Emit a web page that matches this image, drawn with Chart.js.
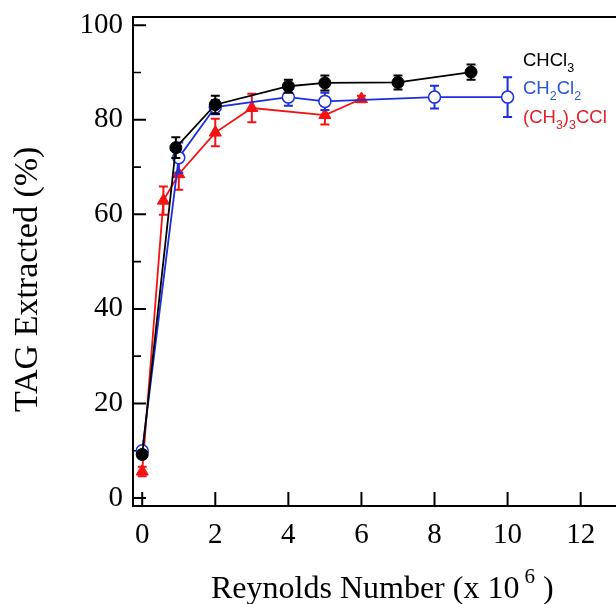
<!DOCTYPE html>
<html><head><meta charset="utf-8">
<script src="https://cdn.jsdelivr.net/npm/chart.js@4"></script>
<style>html,body{margin:0;padding:0;overflow:hidden;background:#fff}#wrap{width:660px;height:604px}</style>
</head><body><div id="wrap"><canvas id="c" width="660" height="604" style="width:660px;height:604px"></canvas></div>
<script>
// ---- data ----
const xChcl3 = [0, 0.92, 2, 4, 5, 7, 9];
const yChcl3 = [9.2, 74.1, 83.2, 87.1, 87.8, 87.9, 90.1];
const errChcl3 = [0.8, 2.2, 1.9, 1.4, 1.6, 1.5, 1.6];

const xCh2cl2 = [0, 1, 2, 4, 5, 8, 10];
const yCh2cl2 = [10.0, 72.0, 82.7, 84.8, 83.9, 84.8, 84.8];
const errCh2cl2 = [0.5, 3.2, 1.5, 1.8, 1.8, 2.4, 4.2];

const xTbucl = [0, 0.58, 1, 2, 3, 5, 6];
const yTbucl = [5.6, 62.9, 68.5, 77.3, 82.5, 81.0, 84.4];
const errTbucl = [1.0, 3.0, 3.3, 2.9, 3.0, 2.0, 0.7];

const xTickValues = [0, 2, 4, 6, 8, 10, 12];
const yTickValues = [0, 20, 40, 60, 80, 100];
const yMinorTickValues = [10, 30, 50, 70, 90];

// rich text: [text, kind] kind 0 normal, 1 subscript, -1 superscript
const legendChcl3 = [['CHCl', 0], ['3', 1]];
const legendCh2cl2 = [['CH', 0], ['2', 1], ['Cl', 0], ['2', 1]];
const legendTbucl = [['(CH', 0], ['3', 1], [')', 0], ['3', 1], ['CCl', 0]];
const xTitle = [['Reynolds Number (x 10', 0], ['6', -1], [' )', 0]];
const yTitle = 'TAG Extracted (%)';

const BLACK = '#000000', BLUE = '#1c2ee0', RED = '#f51212';
const errSets = [errChcl3, errCh2cl2, errTbucl];
const errColors = [BLACK, BLUE, RED];

function pts(xs, ys) { return xs.map((v, i) => ({ x: v, y: ys[i] })); }

function drawRich(ctx, segs, x, y, size, smallSize, subDy, supDy, family, supGap) {
  let cx = x;
  segs.forEach(([t, k]) => {
    ctx.font = (k === 0 ? size : smallSize) + 'px ' + family;
    if (k === -1) cx += supGap;
    const dy = k === 1 ? subDy : (k === -1 ? supDy : 0);
    ctx.fillText(t, cx, y + dy);
    cx += ctx.measureText(t).width;
  });
}

const deco = {
  id: 'deco',
  beforeDatasetsDraw(chart) {
    const { ctx, chartArea: a, scales: { x, y } } = chart;
    ctx.save();
    ctx.strokeStyle = '#000';
    ctx.lineWidth = 2;
    ctx.strokeRect(a.left, a.top, a.right - a.left, a.bottom - a.top);
    ctx.beginPath();
    xTickValues.forEach(v => { const p = x.getPixelForValue(v); ctx.moveTo(p, a.bottom); ctx.lineTo(p, a.bottom - 14); });
    yTickValues.forEach(v => { const p = y.getPixelForValue(v); ctx.moveTo(a.left, p); ctx.lineTo(a.left + 13, p); });
    ctx.stroke();
    ctx.lineWidth = 1.6;
    ctx.beginPath();
    yMinorTickValues.forEach(v => { const p = y.getPixelForValue(v); ctx.moveTo(a.left, p); ctx.lineTo(a.left + 8, p); });
    ctx.stroke();
    ctx.restore();
  },
  beforeDatasetDraw(chart, args) {
    const i = args.index;
    const errs = errSets[i];
    const ds = chart.data.datasets[i];
    const { ctx, scales: { x, y } } = chart;
    ctx.save();
    ctx.strokeStyle = errColors[i];
    ctx.lineWidth = 2;
    ctx.beginPath();
    ds.data.forEach((p, j) => {
      const px = x.getPixelForValue(p.x);
      const top = y.getPixelForValue(p.y + errs[j]);
      const bot = y.getPixelForValue(p.y - errs[j]);
      ctx.moveTo(px, top); ctx.lineTo(px, bot);
      ctx.moveTo(px - 4.5, top); ctx.lineTo(px + 4.5, top);
      ctx.moveTo(px - 4.5, bot); ctx.lineTo(px + 4.5, bot);
    });
    ctx.stroke();
    ctx.restore();
  },
  afterDraw(chart) {
    const { ctx } = chart;
    ctx.save();
    ctx.textBaseline = 'alphabetic';
    ctx.textAlign = 'left';
    const sans = '"Liberation Sans", Arial, sans-serif';
    ctx.fillStyle = '#000000';
    drawRich(ctx, legendChcl3, 523, 66, 18.5, 12.5, 6, 0, sans, 0);
    ctx.fillStyle = '#2a55d6';
    drawRich(ctx, legendCh2cl2, 523, 94, 18.5, 12.5, 6, 0, sans, 0);
    ctx.fillStyle = '#e0202a';
    drawRich(ctx, legendTbucl, 523, 122.5, 18.5, 12.5, 6, 0, sans, 0);

    const serif = '"Liberation Serif", "Times New Roman", serif';
    ctx.fillStyle = '#000';
    drawRich(ctx, xTitle, 211, 597.5, 32, 21, 0, -15, serif, 5);

    ctx.translate(37, 412);
    ctx.rotate(-Math.PI / 2);
    ctx.font = '34px ' + serif;
    ctx.fillText(yTitle, 0, 0);
    ctx.restore();
  }
};

const tickFont = { family: '"Liberation Serif", "Times New Roman", serif', size: 29 };

new Chart(document.getElementById('c'), {
  type: 'line',
  data: {
    datasets: [
      { label: 'CHCl3', data: pts(xChcl3, yChcl3), borderColor: BLACK, backgroundColor: BLACK,
        borderWidth: 1.8, pointStyle: 'circle', pointRadius: 6, pointBackgroundColor: BLACK, pointBorderColor: BLACK, pointBorderWidth: 1 },
      { label: 'CH2Cl2', data: pts(xCh2cl2, yCh2cl2), borderColor: BLUE, backgroundColor: BLUE,
        borderWidth: 1.8, pointStyle: 'circle', pointRadius: 6, pointBackgroundColor: '#ffffff', pointBorderColor: BLUE, pointBorderWidth: 1.5 },
      { label: '(CH3)3CCl', data: pts(xTbucl, yTbucl), borderColor: RED, backgroundColor: RED,
        borderWidth: 1.8, pointStyle: 'triangle', pointRadius: 7, pointBackgroundColor: RED, pointBorderColor: RED, pointBorderWidth: 1 }
    ]
  },
  options: {
    responsive: false,
    animation: false,
    events: [],
    layout: { padding: { top: 17, right: 30, left: 0, bottom: 0 } },
    plugins: { legend: { display: false }, tooltip: { enabled: false }, title: { display: false } },
    elements: { line: { tension: 0 } },
    scales: {
      x: {
        type: 'linear', min: -0.252, max: 13.35,
        grid: { display: false, drawTicks: false },
        border: { display: false },
        ticks: { font: tickFont, color: '#000', padding: 12, maxRotation: 0, autoSkip: false },
        afterBuildTicks: s => { s.ticks = xTickValues.map(v => ({ value: v })); },
        afterFit: s => { s.height = 98; s.paddingLeft = 0; s.paddingRight = 0; }
      },
      y: {
        type: 'linear', min: -1.7, max: 101.75,
        grid: { display: false, drawTicks: false },
        border: { display: false },
        ticks: { font: tickFont, color: '#000', padding: 10, autoSkip: false },
        afterBuildTicks: s => { s.ticks = yTickValues.map(v => ({ value: v })); },
        afterFit: s => { s.width = 133; s.paddingTop = 0; s.paddingBottom = 0; }
      }
    }
  },
  plugins: [deco]
});
</script>
</body></html>
